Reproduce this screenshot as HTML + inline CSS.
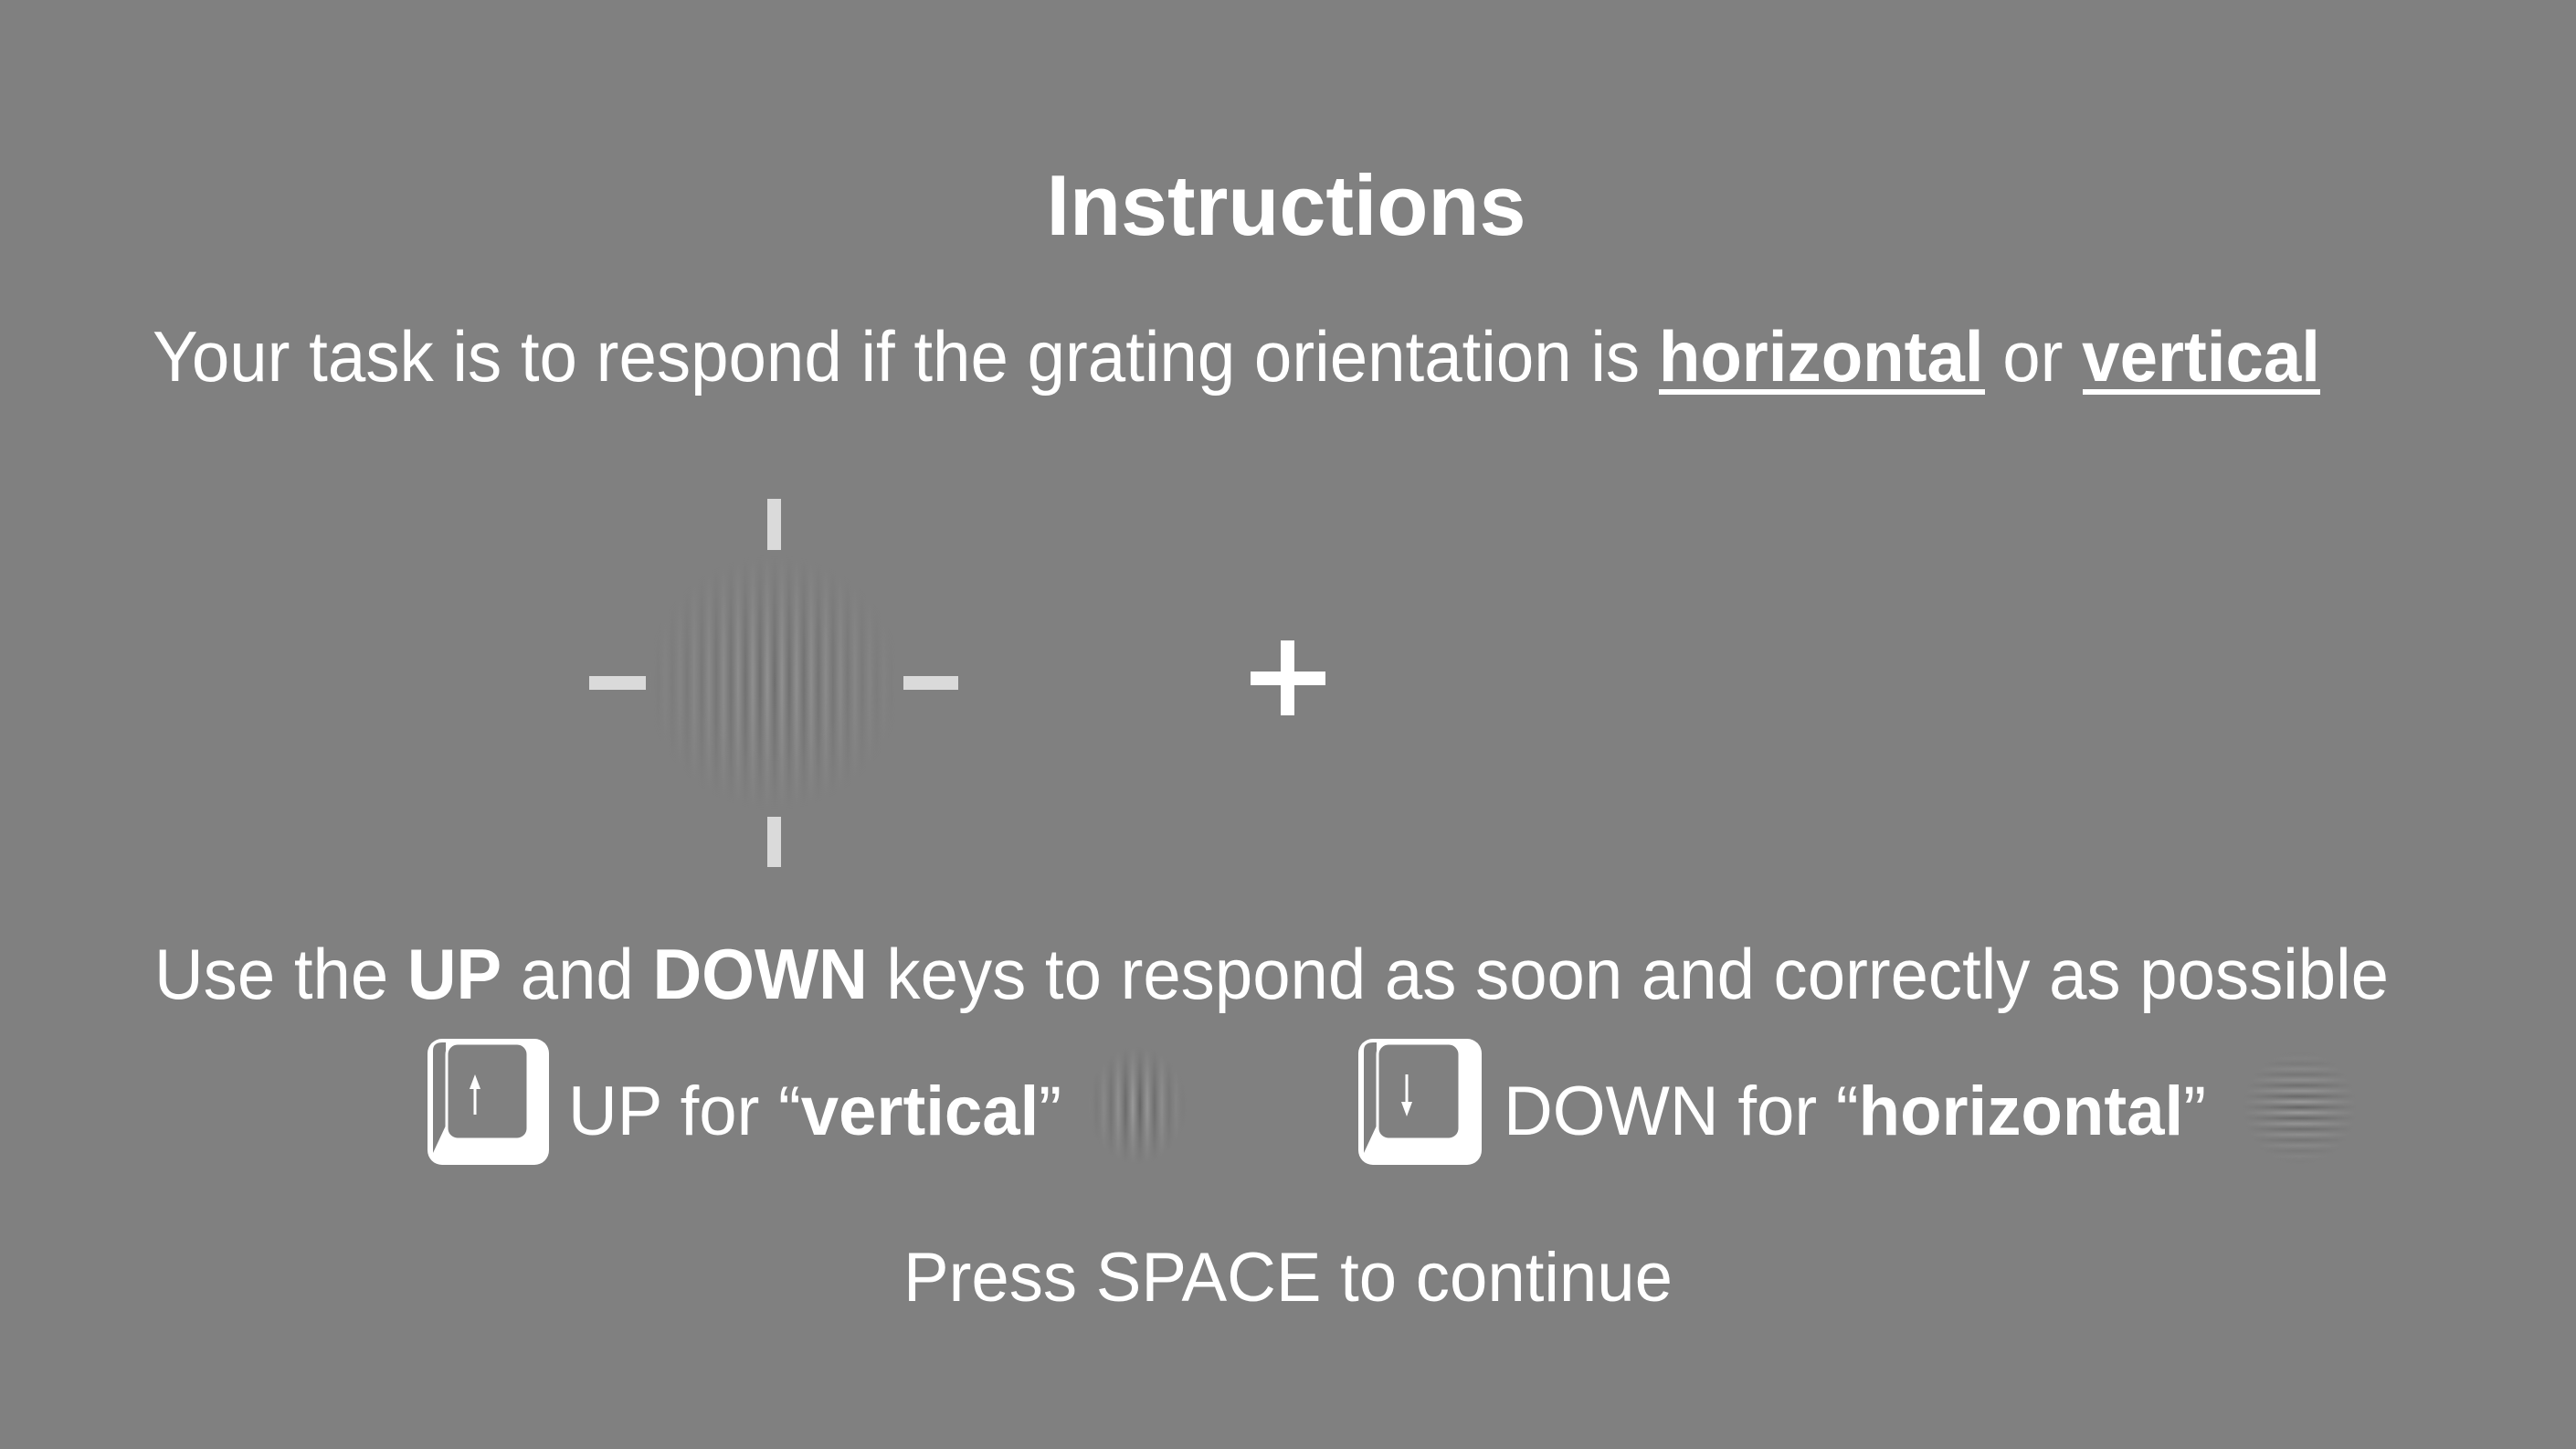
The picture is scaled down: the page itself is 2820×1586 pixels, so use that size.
<!DOCTYPE html>
<html><head><meta charset="utf-8">
<style>
html,body{margin:0;padding:0;background:#808080;}
svg{display:block;}
text{font-family:"Liberation Sans",Arial,sans-serif;fill:#fff;}
</style></head>
<body>
<svg width="2820" height="1586" viewBox="0 0 2820 1586">
<defs>
  <linearGradient id="vstripe" x1="0" y1="0" x2="16" y2="0" gradientUnits="userSpaceOnUse" spreadMethod="repeat">
    <stop offset="0" stop-color="#5a5a5a"/><stop offset="0.5" stop-color="#a6a6a6"/><stop offset="1" stop-color="#5a5a5a"/>
  </linearGradient>
  <linearGradient id="vstripe2" x1="0" y1="0" x2="16" y2="0" gradientUnits="userSpaceOnUse" spreadMethod="repeat">
    <stop offset="0" stop-color="#626262"/><stop offset="0.5" stop-color="#9e9e9e"/><stop offset="1" stop-color="#626262"/>
  </linearGradient>
  <linearGradient id="hstripe" x1="0" y1="0" x2="0" y2="12" gradientUnits="userSpaceOnUse" spreadMethod="repeat">
    <stop offset="0" stop-color="#5a5a5a"/><stop offset="0.5" stop-color="#a6a6a6"/><stop offset="1" stop-color="#5a5a5a"/>
  </linearGradient>
  <radialGradient id="fade">
    <stop offset="0" stop-color="#fff" stop-opacity="0.75"/>
    <stop offset="0.5" stop-color="#fff" stop-opacity="0.35"/>
    <stop offset="1" stop-color="#fff" stop-opacity="0"/>
  </radialGradient>
  <radialGradient id="fade2">
    <stop offset="0" stop-color="#fff" stop-opacity="0.6"/>
    <stop offset="0.45" stop-color="#fff" stop-opacity="0.35"/>
    <stop offset="1" stop-color="#fff" stop-opacity="0"/>
  </radialGradient>
  <mask id="m1" maskContentUnits="objectBoundingBox"><rect x="0" y="0" width="1" height="1" fill="url(#fade)"/></mask>
  <mask id="m2" maskContentUnits="objectBoundingBox"><rect x="0" y="0" width="1" height="1" fill="url(#fade2)"/></mask>
</defs>
<rect width="2820" height="1586" fill="#808080"/>

<text x="1408" y="257" font-size="94" font-weight="bold" text-anchor="middle" textLength="525" lengthAdjust="spacingAndGlyphs">Instructions</text>

<text x="167" y="417" font-size="78" textLength="2373" lengthAdjust="spacingAndGlyphs">Your task is to respond if the grating orientation is <tspan font-weight="bold">horizontal</tspan> or <tspan font-weight="bold">vertical</tspan></text>
<rect x="1816" y="426" width="357" height="6" fill="#fff"/>
<rect x="2280" y="426" width="260" height="6" fill="#fff"/>

<g>
  <rect x="707" y="607" width="280" height="280" fill="url(#vstripe2)" mask="url(#m2)"/>
  <rect x="840" y="546" width="15" height="56" fill="#dadada"/>
  <rect x="840" y="894" width="15" height="55" fill="#dadada"/>
  <rect x="645" y="740" width="62" height="15" fill="#dadada"/>
  <rect x="989" y="740" width="60" height="15" fill="#dadada"/>
</g>

<g>
  <rect x="1402" y="701" width="15" height="82" fill="#fff"/>
  <rect x="1369" y="735" width="82" height="15" fill="#fff"/>
</g>

<text x="169" y="1093" font-size="78" textLength="2446" lengthAdjust="spacingAndGlyphs">Use the <tspan font-weight="bold">UP</tspan> and <tspan font-weight="bold">DOWN</tspan> keys to respond as soon and correctly as possible</text>

<g>
  <rect x="468" y="1137" width="133" height="138" rx="16" fill="#fff"/>
  <path d="M474 1150 Q474 1141 484 1141 L488 1141 L488 1232 L474 1262 Z" fill="#808080"/>
  <rect x="489" y="1142" width="89" height="105" rx="12" fill="#808080" stroke="#fff" stroke-width="3"/>
  <line x1="520" y1="1220" x2="520" y2="1186" stroke="#fff" stroke-width="3"/>
  <polygon points="520,1176 514,1192 526,1192" fill="#fff"/>
</g>
<text x="622" y="1242" font-size="76" textLength="540" lengthAdjust="spacingAndGlyphs">UP for “<tspan font-weight="bold">vertical</tspan>”</text>
<rect x="1190" y="1145" width="110" height="130" fill="url(#vstripe)" mask="url(#m1)"/>

<g>
  <rect x="1487" y="1137" width="135" height="138" rx="16" fill="#fff"/>
  <path d="M1493 1150 Q1493 1141 1503 1141 L1507 1141 L1507 1232 L1493 1262 Z" fill="#808080"/>
  <rect x="1508" y="1142" width="90" height="105" rx="12" fill="#808080" stroke="#fff" stroke-width="3"/>
  <line x1="1540" y1="1176" x2="1540" y2="1210" stroke="#fff" stroke-width="3"/>
  <polygon points="1540,1222 1534,1206 1546,1206" fill="#fff"/>
</g>
<text x="1646" y="1242" font-size="76" textLength="769" lengthAdjust="spacingAndGlyphs">DOWN for “<tspan font-weight="bold">horizontal</tspan>”</text>
<rect x="2455" y="1150" width="125" height="125" fill="url(#hstripe)" mask="url(#m1)"/>

<text x="989" y="1424" font-size="76" textLength="842" lengthAdjust="spacingAndGlyphs">Press SPACE to continue</text>
</svg>
</body></html>
